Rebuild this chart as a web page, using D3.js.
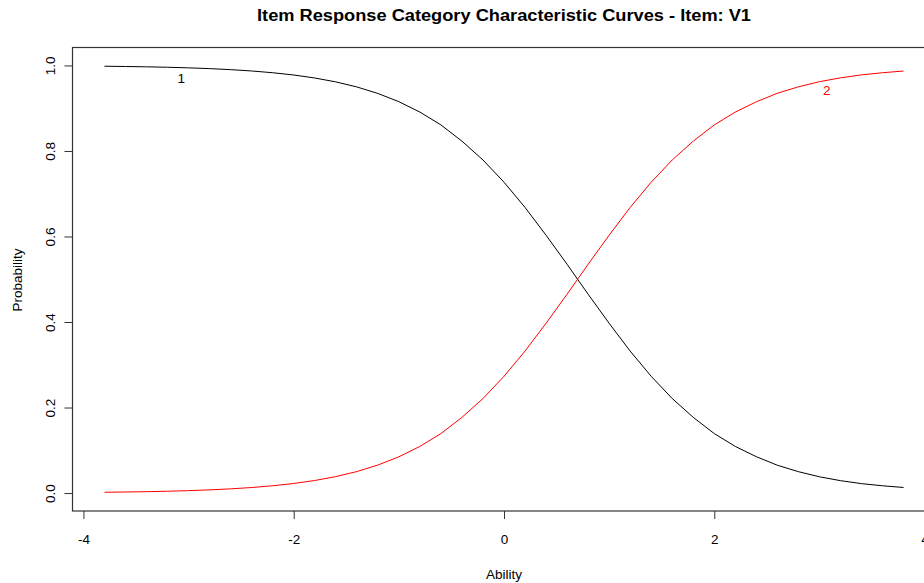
<!DOCTYPE html>
<html><head><meta charset="utf-8">
<script src="https://cdn.jsdelivr.net/npm/d3@7"></script>
<style>body{margin:0;background:#fff;} svg{display:block;font-family:"Liberation Sans",Arial,sans-serif;}</style>
</head><body><svg id="c" width="924" height="583"></svg>
<script>
const ability = [-3.8,-3.6,-3.4,-3.2,-3.0,-2.8,-2.6,-2.4,-2.2,-2.0,-1.8,-1.6,-1.4,-1.2,-1.0,-0.8,-0.6,-0.4,-0.2,0.0,0.2,0.4,0.6,0.8,1.0,1.2,1.4,1.6,1.8,2.0,2.2,2.4,2.6,2.8,3.0,3.2,3.4,3.6,3.8];
const cat2 = [0.0018,0.0024,0.0032,0.0042,0.0056,0.0074,0.0098,0.0129,0.0170,0.0223,0.0293,0.0384,0.0502,0.0654,0.0847,0.109,0.139,0.177,0.221,0.273,0.332,0.397,0.465,0.535,0.603,0.668,0.727,0.779,0.823,0.861,0.891,0.915,0.935,0.950,0.962,0.971,0.978,0.983,0.987];
const cat1 = [0.9982,0.9976,0.9968,0.9958,0.9944,0.9926,0.9902,0.9871,0.9830,0.9777,0.9707,0.9616,0.9498,0.9346,0.9153,0.891,0.861,0.823,0.779,0.727,0.668,0.603,0.535,0.465,0.397,0.332,0.273,0.221,0.177,0.139,0.109,0.085,0.065,0.050,0.038,0.029,0.022,0.017,0.013];
const xTicks = [-4,-2,0,2,4];
const yTicks = [0.0,0.2,0.4,0.6,0.8,1.0];
const curveLabels = [{text:"1", x:-3.07, y:0.97, color:"#000"},{text:"2", x:3.07, y:0.942, color:"#ff0000"}];
const title = "Item Response Category Characteristic Curves - Item: V1";

const svg = d3.select("#c");
const x = d3.scaleLinear().domain([-4.104,4.104]).range([72.5,935.5]);
const y = d3.scaleLinear().domain([-0.042,1.042]).range([511,47.5]);

svg.append("rect").attr("x",72.5).attr("y",47.5).attr("width",863).attr("height",463.5)
  .attr("fill","none").attr("stroke","#333").attr("stroke-width",1.2);

const line = d3.line().x((d,i)=>x(ability[i])).y(d=>y(d));
svg.append("path").datum(cat1).attr("d",line).attr("fill","none").attr("stroke","#000").attr("stroke-width",1);
svg.append("path").datum(cat2).attr("d",line).attr("fill","none").attr("stroke","#ff0000").attr("stroke-width",1);

const xa = svg.append("g").attr("transform","translate(0,511)")
  .call(d3.axisBottom(x).tickValues(xTicks).tickSize(8).tickPadding(15).tickFormat(d=>String(d)));
xa.select(".domain").remove();
xa.selectAll("line").attr("stroke","#333");
xa.selectAll("text").attr("font-size",13.5).attr("fill","#000").attr("font-family","Liberation Sans, Arial");

const ya = svg.append("g").attr("transform","translate(72.5,0)")
  .call(d3.axisLeft(y).tickValues(yTicks).tickSize(8).tickFormat(d3.format(".1f")));
ya.select(".domain").remove();
ya.selectAll("line").attr("stroke","#333");
ya.selectAll("text").attr("font-size",13.5).attr("fill","#000").attr("font-family","Liberation Sans, Arial")
  .attr("text-anchor","middle").attr("dy","0").attr("x",0)
  .attr("transform","translate(-22.5,0) rotate(-90)").attr("dominant-baseline","central");

svg.selectAll("text.cl").data(curveLabels).enter().append("text").attr("class","cl")
  .attr("x",d=>x(d.x)).attr("y",d=>y(d.y)).attr("fill",d=>d.color)
  .attr("text-anchor","middle").attr("dominant-baseline","central").attr("font-size",13.5).text(d=>d.text);

svg.append("text").attr("x",504).attr("y",21).attr("text-anchor","middle").attr("font-weight","bold")
  .attr("font-size",16).attr("textLength",494).attr("lengthAdjust","spacingAndGlyphs").text(title);
svg.append("text").attr("x",504).attr("y",579).attr("text-anchor","middle").attr("font-size",13.5).text("Ability");
svg.append("text").attr("transform","translate(21.5,280) rotate(-90)").attr("text-anchor","middle").attr("font-size",13.5).text("Probability");
</script></body></html>
